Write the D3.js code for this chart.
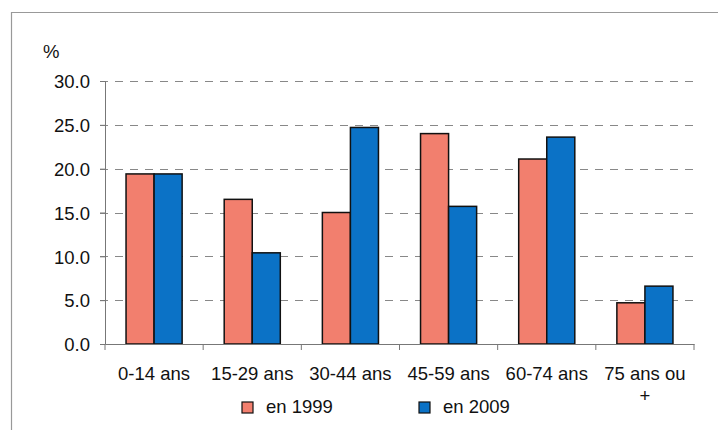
<!DOCTYPE html>
<html lang="fr">
<head>
<meta charset="UTF-8">
<title>Population par âge</title>
<script src="https://cdn.jsdelivr.net/npm/d3@7"></script>
<style>
  body { margin: 0; background: #fff; }
  svg { display: block; font-family: "Liberation Sans", Arial, sans-serif; }
</style>
</head>
<body>
<div id="chart"></div>
<script>
// catégories d'âge et valeurs (%)
const categories = ["0-14 ans", "15-29 ans", "30-44 ans", "45-59 ans", "60-74 ans", "75 ans ou +"];
const series = ["en 1999", "en 2009"];
const values1999 = [19.4, 16.5, 15.0, 24.0, 21.1, 4.7];
const values2009 = [19.4, 10.4, 24.7, 15.7, 23.6, 6.6];
const yTicks = [0, 5, 10, 15, 20, 25, 30];
const colors = ["#F27F6E", "#0B72C6"];

const width = 718, height = 430;
const margin = { left: 105, right: 24, top: 81, bottom: 86 };

const svg = d3.select("#chart").append("svg")
  .attr("width", width)
  .attr("height", height);

// cadre
svg.append("path")
  .attr("d", `M11.5,${height} V12.5 H${width}`)
  .attr("fill", "none")
  .attr("stroke", "#999")
  .attr("stroke-width", 1.2);

const x = d3.scaleBand()
  .domain(categories)
  .range([margin.left, width - margin.right]);

const x1 = d3.scaleBand()
  .domain(series)
  .range([0, x.bandwidth()])
  .paddingInner(0)
  .paddingOuter(0.75);

const y = d3.scaleLinear()
  .domain([0, 30])
  .range([height - margin.bottom, margin.top]);

// grille
svg.append("g")
  .selectAll("line")
  .data(yTicks.filter(d => d > 0))
  .join("line")
  .attr("x1", margin.left - 5)
  .attr("x2", width - margin.right)
  .attr("y1", d => Math.round(y(d)) + 0.5)
  .attr("y2", d => Math.round(y(d)) + 0.5)
  .attr("stroke", "#888")
  .attr("stroke-width", 1.1)
  .attr("stroke-dasharray", "8,7");

// barres
const data = categories.map((c, i) => ({ cat: c, vals: [values1999[i], values2009[i]] }));
const groups = svg.append("g")
  .selectAll("g")
  .data(data)
  .join("g")
  .attr("transform", d => `translate(${x(d.cat)},0)`);

groups.selectAll("rect")
  .data(d => d.vals.map((v, j) => ({ s: series[j], v: v, j: j })))
  .join("rect")
  .attr("x", d => x1(d.s))
  .attr("y", d => y(d.v))
  .attr("width", x1.bandwidth())
  .attr("height", d => y(0) - y(d.v))
  .attr("fill", d => colors[d.j])
  .attr("stroke", "#111")
  .attr("stroke-width", 1.5);

// axe Y
const yAxis = svg.append("g")
  .attr("transform", `translate(${margin.left},0)`)
  .call(d3.axisLeft(y).tickValues(yTicks).tickFormat(d3.format(".1f")).tickSize(5).tickPadding(10));
yAxis.select(".domain").attr("stroke", "#777");
yAxis.selectAll(".tick line").attr("stroke", "#777");
yAxis.selectAll("text")
  .attr("font-size", 18.5)
  .attr("fill", "#111")
  .attr("dy", "0.36em");

// axe X
const xAxis = svg.append("g")
  .attr("transform", `translate(0,${y(0)})`)
  .call(d3.axisBottom(x).tickSize(0).tickFormat(""));
xAxis.select(".domain").attr("stroke", "#777");
xAxis.selectAll(".tick").remove();

// graduations entre catégories
svg.append("g")
  .selectAll("line")
  .data(d3.range(categories.length + 1))
  .join("line")
  .attr("x1", i => margin.left + i * x.step())
  .attr("x2", i => margin.left + i * x.step())
  .attr("y1", y(0))
  .attr("y2", y(0) + 6)
  .attr("stroke", "#777");

// libellés des catégories
const labelLines = { "75 ans ou +": ["75 ans ou", "+"] };
svg.append("g")
  .selectAll("text")
  .data(categories)
  .join("text")
  .attr("text-anchor", "middle")
  .attr("font-size", 18.5)
  .attr("fill", "#111")
  .each(function (d) {
    const lines = labelLines[d] || [d];
    d3.select(this).selectAll("tspan")
      .data(lines)
      .join("tspan")
      .attr("x", x(d) + x.bandwidth() / 2)
      .attr("y", (l, k) => 380 + k * 22)
      .text(l => l);
  });

// unité
svg.append("text")
  .attr("x", 43)
  .attr("y", 58)
  .attr("font-size", 18.5)
  .attr("fill", "#111")
  .text("%");

// légende
const legendX = [242, 419];
const legend = svg.append("g")
  .selectAll("g")
  .data(series)
  .join("g")
  .attr("transform", (d, i) => `translate(${legendX[i]},402)`);
legend.append("rect")
  .attr("width", 11)
  .attr("height", 11)
  .attr("fill", (d, i) => colors[i])
  .attr("stroke", "#111")
  .attr("stroke-width", 1.2);
legend.append("text")
  .attr("x", 24)
  .attr("y", 11)
  .attr("font-size", 18.5)
  .attr("fill", "#111")
  .text(d => d);
</script>
</body>
</html>
